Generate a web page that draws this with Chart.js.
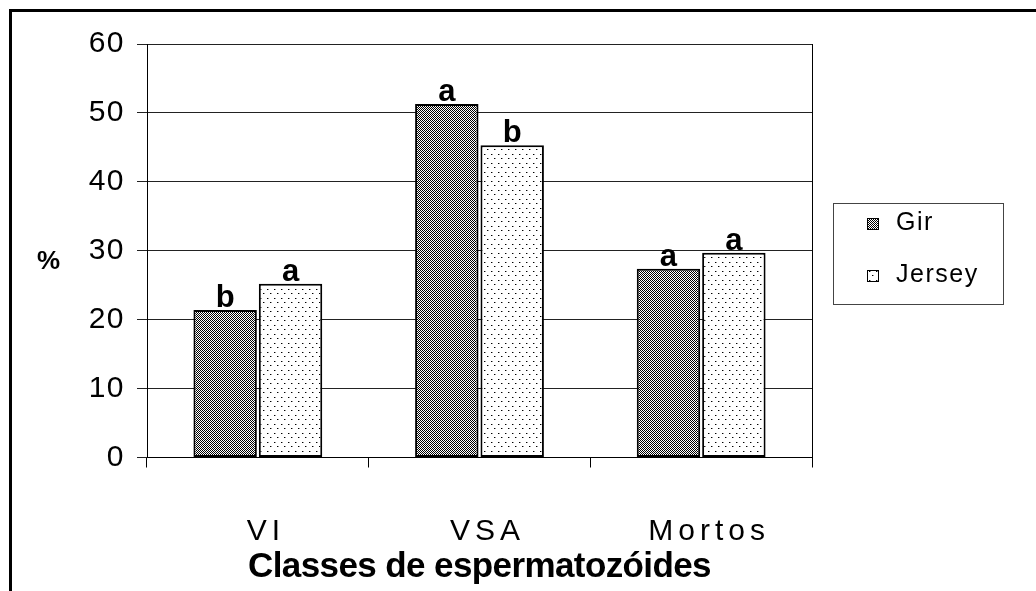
<!DOCTYPE html>
<html>
<head>
<meta charset="utf-8">
<script src="https://cdn.jsdelivr.net/npm/chart.js@4.4.1/dist/chart.umd.min.js"></script>
<style>
  html, body { margin: 0; padding: 0; background: #fff; }
  #wrap { width: 1036px; height: 591px; }
</style>
</head>
<body>
<div id="wrap"><canvas id="chart" width="1036" height="591"></canvas></div>
<script>
// values
const categories = ['VI', 'VSA', 'Mortos'];
const girValues = [21.4, 51.3, 27.4];
const jerseyValues = [25.2, 45.3, 29.7];
const girLetters = ['b', 'a', 'a'];
const jerseyLetters = ['a', 'b', 'a'];
const yMin = 0;
const yMax = 60;
const yStep = 10;

const FONT = '"Liberation Sans", Arial, sans-serif';

// fill patterns like the old excel hatch fills
function checkerPattern() {
    const c = document.createElement('canvas');
    c.width = 2; c.height = 2;
    const g = c.getContext('2d');
    g.fillStyle = '#fff';
    g.fillRect(0, 0, 2, 2);
    g.fillStyle = '#000';
    g.fillRect(0, 0, 1, 1);
    g.fillRect(1, 1, 1, 1);
    return g.createPattern(c, 'repeat');
}

function dotPattern() {
    const c = document.createElement('canvas');
    c.width = 7; c.height = 9;
    const g = c.getContext('2d');
    g.fillStyle = '#fff';
    g.fillRect(0, 0, 7, 9);
    g.fillStyle = '#000';
    g.fillRect(1, 1, 1, 1);
    g.fillRect(4, 5, 1, 1);
    g.fillStyle = '#999';
    g.fillRect(2, 1, 1, 1);
    g.fillRect(5, 5, 1, 1);
    return g.createPattern(c, 'repeat');
}

const girFill = checkerPattern();
const jerseyFill = dotPattern();

// frame, right edge of plot, "%" label, letters over bars and legend
const extras = {
    id: 'extras',
    beforeDraw(chart) {
        const ctx = chart.ctx;
        ctx.save();
        ctx.fillStyle = '#fff';
        ctx.fillRect(0, 0, chart.width, chart.height);
        ctx.strokeStyle = '#000';
        ctx.lineWidth = 3;
        ctx.beginPath();
        ctx.moveTo(10.5, chart.height + 5);
        ctx.lineTo(10.5, 10.5);
        ctx.lineTo(chart.width + 5, 10.5);
        ctx.stroke();
        ctx.restore();
    },
    afterDatasetsDraw(chart) {
        const ctx = chart.ctx;
        const area = chart.chartArea;
        ctx.save();
        ctx.strokeStyle = '#000';
        ctx.lineWidth = 1;
        ctx.beginPath();
        ctx.moveTo(Math.round(area.right) + 0.5, area.top);
        ctx.lineTo(Math.round(area.right) + 0.5, area.bottom);
        ctx.stroke();

        // significance letters
        const letters = [girLetters, jerseyLetters];
        ctx.font = 'bold 31px ' + FONT;
        ctx.fillStyle = '#000';
        ctx.textAlign = 'center';
        ctx.textBaseline = 'alphabetic';
        chart.data.datasets.forEach((ds, i) => {
            chart.getDatasetMeta(i).data.forEach((bar, j) => {
                ctx.fillText(letters[i][j], bar.x, bar.y - 3);
            });
        });

        // y axis label
        ctx.font = 'bold 26px ' + FONT;
        ctx.textAlign = 'left';
        ctx.textBaseline = 'middle';
        ctx.fillText('%', 37, 262);

        // legend box
        ctx.strokeStyle = '#444';
        ctx.lineWidth = 1;
        ctx.strokeRect(833.5, 203.5, 170, 101);
        ctx.font = '25px ' + FONT;
        ctx.letterSpacing = '1.5px';
        ctx.textBaseline = 'alphabetic';
        const rows = [230, 282];
        chart.data.datasets.forEach((ds, i) => {
            const y = rows[i];
            ctx.fillStyle = ds.backgroundColor;
            ctx.fillRect(867, y - 12, 12, 12);
            ctx.strokeStyle = '#000';
            ctx.strokeRect(867.5, y - 11.5, 11, 11);
            ctx.fillStyle = '#000';
            ctx.fillText(ds.label, 896, y);
        });
        ctx.restore();
    }
};

const ctx = document.getElementById('chart').getContext('2d');
const chart = new Chart(ctx, {
    type: 'bar',
    data: {
        labels: categories,
        datasets: [{
            label: 'Gir',
            data: girValues,
            backgroundColor: girFill,
            borderColor: '#000',
            borderWidth: 2,
            borderSkipped: false
        }, {
            label: 'Jersey',
            data: jerseyValues,
            backgroundColor: jerseyFill,
            borderColor: '#000',
            borderWidth: 2,
            borderSkipped: false
        }]
    },
    options: {
        responsive: false,
        animation: false,
        devicePixelRatio: 1,
        categoryPercentage: 0.59,
        barPercentage: 0.97,
        layout: { padding: { left: 0, top: 44, right: 224, bottom: 0 } },
        plugins: {
            legend: { display: false },
            tooltip: { enabled: false }
        },
        scales: {
            x: {
                afterFit(scale) { scale.height = 133.5; },
                grid: {
                    drawOnChartArea: false,
                    color: '#000',
                    tickLength: 10
                },
                border: { color: '#000' },
                ticks: {
                    color: '#000',
                    font: { family: FONT, size: 30 },
                    padding: 46,
                    labelOffset: 8
                },
                title: {
                    display: true,
                    text: 'Classes de espermatozóides',
                    color: '#000',
                    font: { family: FONT, size: 35, weight: 'bold' },
                    padding: { top: 0, bottom: 3 }
                }
            },
            y: {
                min: yMin,
                max: yMax,
                afterFit(scale) { scale.width = 147; },
                grid: {
                    color: '#222',
                    tickLength: 10
                },
                border: { color: '#000' },
                ticks: {
                    stepSize: yStep,
                    color: '#000',
                    font: { family: FONT, size: 30 },
                    padding: 12
                }
            }
        }
    },
    plugins: [extras]
});

// spaced-out labels and tight axis title, as in the original
function withSpacing(scale, method, spacing) {
    const base = scale[method];
    scale[method] = function (...args) {
        this.ctx.save();
        this.ctx.letterSpacing = spacing;
        base.apply(this, args);
        this.ctx.restore();
    };
}
withSpacing(chart.scales.x, 'drawLabels', '5px');
withSpacing(chart.scales.x, 'drawTitle', '-0.6px');
withSpacing(chart.scales.y, 'drawLabels', '1.5px');
chart.draw();
</script>
</body>
</html>
